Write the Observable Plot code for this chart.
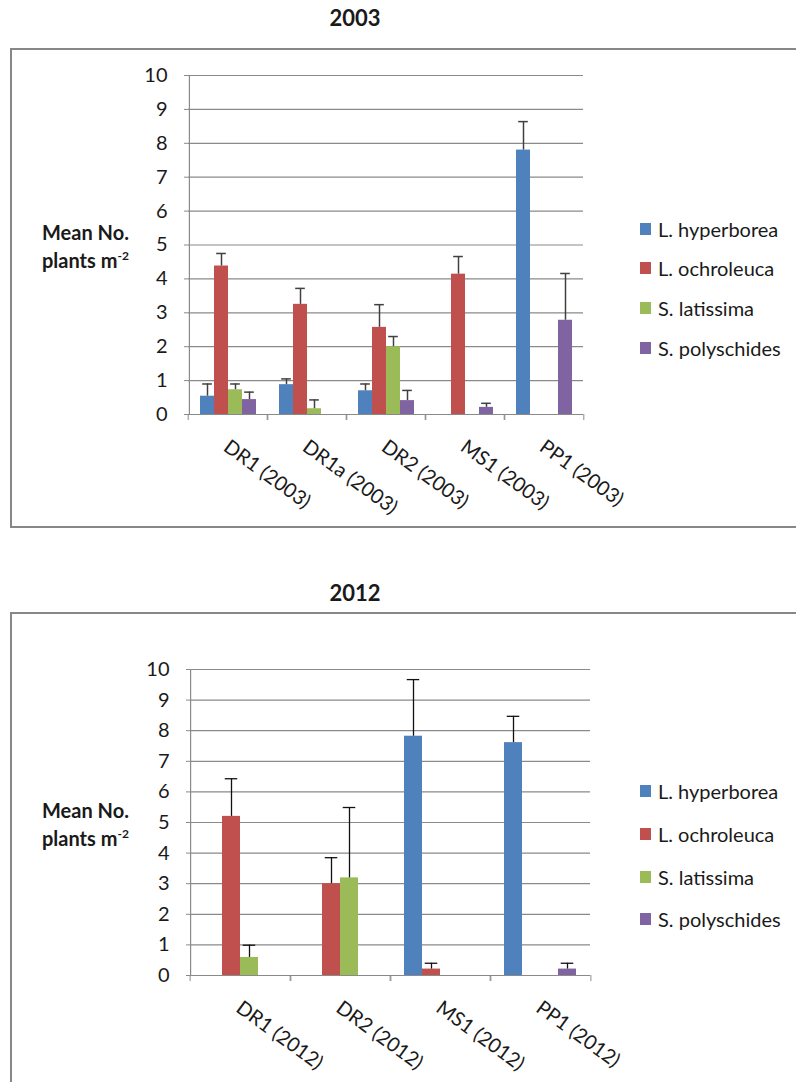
<!DOCTYPE html>
<html>
<head>
<meta charset="utf-8">
<script src="https://cdn.jsdelivr.net/npm/d3@7"></script>
<script src="https://cdn.jsdelivr.net/npm/@observablehq/plot@0.6"></script>
<style>
  html, body { margin: 0; padding: 0; background: #fff; }
  body { width: 796px; height: 1082px; overflow: hidden; position: relative; font-family: Lato, "Open Sans", sans-serif; color: #1a1a1a; }
  .title { position: absolute; font-weight: bold; font-size: 22px; line-height: 24px; transform: translateX(-50%); }
  .box { position: absolute; left: 10px; width: 800px; height: 476px; border: 2px solid #878787; box-sizing: content-box; }
  .ytitle { position: absolute; left: 42px; font-weight: bold; font-size: 20px; line-height: 28px; }
  .ytitle sup { font-size: 0.6em; line-height: 0; }
  .legend { position: absolute; left: 640px; font-size: 20px; }
  .legend .item { position: absolute; left: 0; height: 24px; line-height: 24px; white-space: nowrap; }
  .legend .sw { position: absolute; left: 0; top: 6px; width: 11px; height: 12px; }
  .legend .lab { position: absolute; left: 18px; top: 0; }
  .chart { position: absolute; left: 0; }
</style>
</head>
<body>
<script>
// ---------- data ----------
const species = ["L. hyperborea", "L. ochroleuca", "S. latissima", "S. polyschides"];
const speciesColors = ["#4F81BD", "#C0504D", "#9BBB59", "#8064A2"];
const yTicks = [0, 1, 2, 3, 4, 5, 6, 7, 8, 9, 10];

// 2003
const sites2003 = ["DR1 (2003)", "DR1a (2003)", "DR2 (2003)", "MS1 (2003)", "PP1 (2003)"];
const hyperborea2003 = [0.54, 0.88, 0.70, 0, 7.80];
const hyperborea2003Err = [0.36, 0.17, 0.20, 0, 0.84];
const ochroleuca2003 = [4.38, 3.25, 2.57, 4.14, 0];
const ochroleuca2003Err = [0.37, 0.47, 0.67, 0.52, 0];
const latissima2003 = [0.73, 0.17, 2.00, 0, 0];
const latissima2003Err = [0.17, 0.26, 0.30, 0, 0];
const polyschides2003 = [0.44, 0, 0.41, 0.21, 2.78];
const polyschides2003Err = [0.22, 0, 0.30, 0.12, 1.38];

// 2012
const sites2012 = ["DR1 (2012)", "DR2 (2012)", "MS1 (2012)", "PP1 (2012)"];
const hyperborea2012 = [0, 0, 7.82, 7.61];
const hyperborea2012Err = [0, 0, 1.85, 0.86];
const ochroleuca2012 = [5.20, 3.00, 0.21, 0];
const ochroleuca2012Err = [1.23, 0.85, 0.19, 0];
const latissima2012 = [0.59, 3.19, 0, 0];
const latissima2012Err = [0.40, 2.30, 0, 0];
const polyschides2012 = [0, 0, 0, 0.21];
const polyschides2012Err = [0, 0, 0, 0.19];

// ---------- drawing ----------
const W = 796;
const axisGray = "#8a8a8a";

function addDiv(cls, css, html) {
  const d = document.createElement("div");
  d.className = cls;
  Object.assign(d.style, css);
  if (html !== undefined) d.innerHTML = html;
  document.body.appendChild(d);
  return d;
}

function buildChart(cfg) {
  const {sites, values, errors, top, height, mt, mb, ml, mr, errColor, errWidth} = cfg;
  const rows = [];
  sites.forEach((site, i) => species.forEach((sp, j) =>
    rows.push({site, species: sp, value: values[j][i], err: errors[j][i]})));
  const withErr = rows.filter(d => d.value > 0);
  const fw = (W - ml - mr) / sites.length;
  const step = fw / 5.5;
  const capInset = step * 0.15;
  const first = [{site: sites[0], species: species[0]}];
  const last = sites[sites.length - 1];

  const plot = Plot.plot({
    width: W, height,
    marginTop: mt, marginBottom: mb, marginLeft: ml, marginRight: mr,
    style: {fontFamily: "Lato, 'Open Sans', sans-serif", fontSize: "20px", color: "#1a1a1a", background: "transparent", overflow: "visible"},
    fx: {domain: sites, padding: 0, label: null},
    x: {domain: species, paddingInner: 0, paddingOuter: 0.75, axis: null},
    y: {domain: [0, 10], label: null},
    color: {domain: species, range: speciesColors},
    marks: [
      Plot.gridY(yTicks, {stroke: axisGray, strokeOpacity: 1, strokeWidth: 1.2}),
      Plot.axisY(yTicks, {tickSize: 4, tickPadding: 17, stroke: axisGray, label: null, fill: "#1a1a1a"}),
      Plot.ruleX(first, {fx: "site", x: "species", dx: -1.25 * step, stroke: axisGray, strokeWidth: 1.2}),
      Plot.ruleY([0], {stroke: axisGray, strokeWidth: 1.2}),
      Plot.axisFx({anchor: "bottom", tickSize: 6, tickFormat: () => "", dx: -fw / 2, stroke: axisGray, label: null}),
      Plot.axisFx([last], {anchor: "bottom", tickSize: 6, tickFormat: () => "", dx: fw / 2, stroke: axisGray, label: null}),
      Plot.axisFx({anchor: "bottom", tickSize: 0, tickPadding: 30, tickRotate: 36, label: null, fill: "#1a1a1a", dx: -2}),
      Plot.barY(rows, {fx: "site", x: "species", y: "value", fill: "species"}),
      Plot.ruleX(withErr, {fx: "site", x: "species", y1: "value", y2: d => d.value + d.err, stroke: errColor, strokeWidth: errWidth}),
      Plot.tickY(withErr, {fx: "site", x: "species", y: d => d.value + d.err, stroke: errColor, strokeWidth: errWidth, insetLeft: capInset, insetRight: capInset})
    ]
  });
  const holder = addDiv("chart", {top: top + "px"});
  holder.appendChild(plot);
}

function legend(centers) {
  const lg = addDiv("legend", {top: "0px"});
  species.forEach((sp, j) => {
    const it = document.createElement("div");
    it.className = "item";
    it.style.top = (centers[j] - 12) + "px";
    it.innerHTML = `<span class="sw" style="background:${speciesColors[j]}"></span><span class="lab">${sp}</span>`;
    lg.appendChild(it);
  });
}

// Chart 2003
addDiv("title", {left: "355px", top: "6px"}, "2003");
addDiv("box", {top: "48px"});
addDiv("ytitle", {top: "218px"}, "Mean No.<br>plants m<sup>-2</sup>");
buildChart({
  sites: sites2003,
  values: [hyperborea2003, ochroleuca2003, latissima2003, polyschides2003],
  errors: [hyperborea2003Err, ochroleuca2003Err, latissima2003Err, polyschides2003Err],
  top: 48, height: 480, mt: 27, mb: 114, ml: 186, mr: 212,
  errColor: "#404040", errWidth: 1.5
});
legend([229, 268, 308, 348]);

// Chart 2012
addDiv("title", {left: "355px", top: "581px"}, "2012");
addDiv("box", {top: "612px"});
addDiv("ytitle", {top: "796px"}, "Mean No.<br>plants m<sup>-2</sup>");
buildChart({
  sites: sites2012,
  values: [hyperborea2012, ochroleuca2012, latissima2012, polyschides2012],
  errors: [hyperborea2012Err, ochroleuca2012Err, latissima2012Err, polyschides2012Err],
  top: 612, height: 470, mt: 57, mb: 107, ml: 188, mr: 205,
  errColor: "#111", errWidth: 1.3
});
legend([791, 834, 877, 919]);
</script>
</body>
</html>
